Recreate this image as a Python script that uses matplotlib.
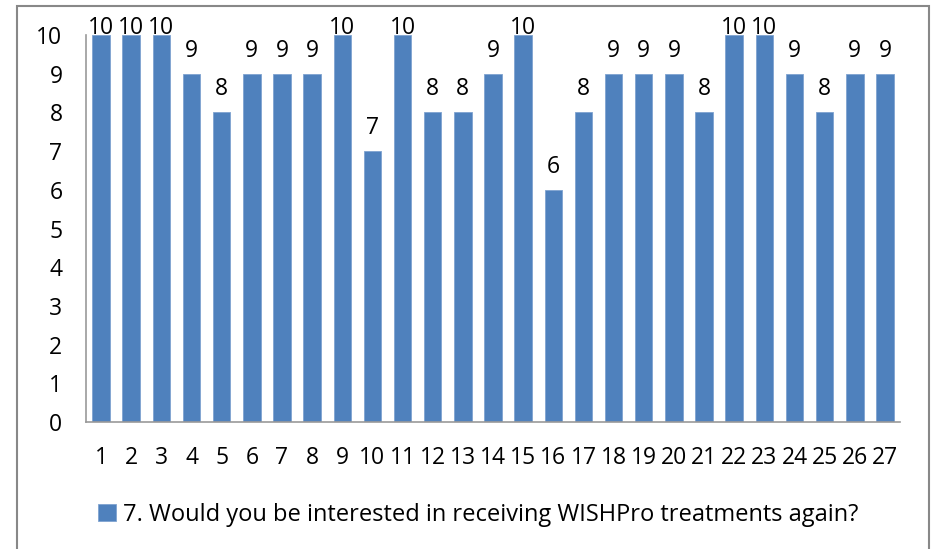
import matplotlib
matplotlib.use("Agg")
import matplotlib.pyplot as plt
from matplotlib.patches import Rectangle

categories = [str(i) for i in range(1, 28)]
values = [10, 10, 10, 9, 8, 9, 9, 9, 10, 7, 10, 8, 8, 9, 10, 6, 8, 9, 9, 9, 8, 10, 10, 9, 8, 9, 9]
series_name = "7. Would you be interested in receiving WISHPro treatments again?"
yticks = list(range(0, 11))

plt.rcParams['font.family'] = ['Open Sans', 'DejaVu Sans']
FS = 16.5

W, H = 937, 549
fig = plt.figure(figsize=(W / 100, H / 100), dpi=100)

# outer border
fig.patches.append(Rectangle((17 / W, -0.01), (929 - 17) / W, (H - 6) / H + 0.01,
                             transform=fig.transFigure, fill=False,
                             edgecolor='#888888', linewidth=1.5))

ax = fig.add_axes([86 / W, 1 - 422 / H, (900 - 86) / W, (422 - 35) / H])
x = list(range(len(categories)))
bars = ax.bar(x, values, width=0.58, color='#4F81BD', edgecolor='#7FA3D0',
              linewidth=0.6, zorder=2)
ax.set_xlim(-0.5, len(categories) - 0.5)
ax.set_ylim(0, 10)
ax.set_yticks(yticks)
ax.set_xticks(x)
ax.set_xticklabels(categories)
ax.tick_params(axis='both', length=0, labelsize=FS, colors='black')
ax.tick_params(axis='y', pad=17)
ax.tick_params(axis='x', pad=17.5)
for s in ['top', 'right']:
    ax.spines[s].set_visible(False)
for s in ['left', 'bottom']:
    ax.spines[s].set_color('#999999')
    ax.spines[s].set_linewidth(1.2)

ymax = ax.get_ylim()[1]
for xi, v in zip(x, values):
    ax.text(xi, min(v + 0.44, ymax + 0.03), str(v), ha='center', va='baseline',
            fontsize=FS, clip_on=False)

leg = fig.legend([bars], [series_name], loc='center', bbox_to_anchor=(478 / W, 1 - 515 / H),
                 frameon=False, prop={'size': 17}, handlelength=0.75, handleheight=0.75,
                 handletextpad=0.3)

fig.savefig("out.png", dpi=100)
